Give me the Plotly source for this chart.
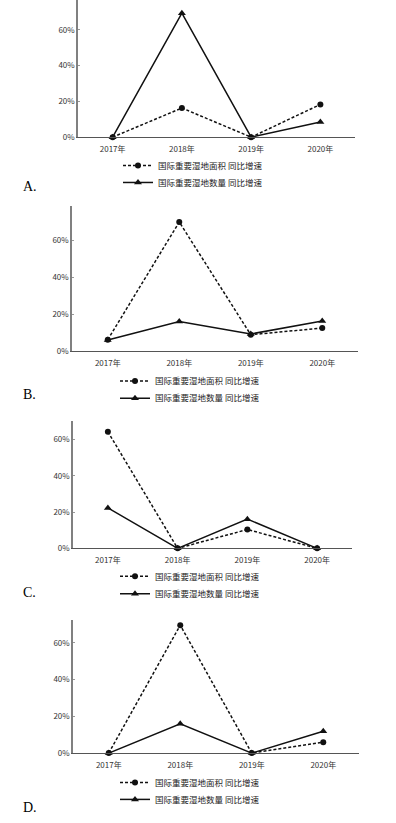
import plotly.graph_objects as go

years = ["2017年", "2018年", "2019年", "2020年"]
name_area = "国际重要湿地面积 同比增速"
name_count = "国际重要湿地数量 同比增速"

# values in %
A_area = [0, 16.3, 0, 18.3]
A_count = [0, 69.3, 0, 8.5]
B_area = [6.2, 69.9, 8.9, 12.5]
B_count = [6.0, 16.1, 9.3, 16.3]
C_area = [64.3, 0, 10.4, 0]
C_count = [22.3, 0, 16.1, 0]
D_area = [0, 69.6, 0, 5.9]
D_count = [0, 15.9, 0, 11.9]

panel_labels = ["A.", "B.", "C.", "D."]
ytick_vals = [0, 20, 40, 60]

W, H = 396, 823

# layout specs in pixels: (x0, x1, ytop, ybottom, ymax, legend_x, legend item centres, label_y)
specs = [
    (78, 355, 0, 138, 76.7, 118, (165, 182), 188),
    (72, 358, 207, 353.3, 78.7, 115, (381.7, 399), 397),
    (73, 352, 423.3, 551.7, 70.4, 115, (578.3, 595.7), 596),
    (73, 359, 624, 757.7, 72.3, 115, (785.7, 802.7), 812),
]
data = [(A_area, A_count), (B_area, B_count), (C_area, C_count), (D_area, D_count)]

fig = go.Figure()
font_cn = "Noto Sans CJK SC"
axis_col = "#808080"
LEG_OFF = 13

def leg_name(n):
    return "legend" if n == 0 else f"legend{n+1}"

for i, (spec, (area, count)) in enumerate(zip(specs, data)):
    x0, x1, yt, yb, ymax, lx, lcs, laby = spec
    sfx = "" if i == 0 else str(i + 1)
    la = leg_name(2 * i)
    lb = leg_name(2 * i + 1)
    fig.add_trace(go.Scatter(
        x=years, y=area, name=name_area, mode="lines+markers",
        line=dict(color="#111111", width=1.5, dash="3px,2px"),
        marker=dict(symbol="circle", size=6, color="#111111"),
        xaxis="x" + sfx, yaxis="y" + sfx, legend=la, cliponaxis=False))
    fig.add_trace(go.Scatter(
        x=years, y=count, name=name_count, mode="lines+markers",
        line=dict(color="#111111", width=1.5),
        marker=dict(symbol="triangle-up", size=7, color="#111111"),
        xaxis="x" + sfx, yaxis="y" + sfx, legend=lb, cliponaxis=False))
    xa = dict(domain=[x0 / W, x1 / W], anchor="y" + sfx, type="category",
              range=[-0.5, 3.5], showline=True, linecolor="#555555", linewidth=1,
              showgrid=False, zeroline=False, ticks="", ticklabelstandoff=4,
              tickfont=dict(family=font_cn, size=8, color="#333333"))
    ya = dict(domain=[1 - yb / H, 1 - yt / H], anchor="x" + sfx,
              range=[0, ymax], showline=True, linecolor=axis_col, linewidth=1.5,
              showgrid=False, zeroline=False, ticks="inside", ticklen=2,
              tickcolor="#999999", tickwidth=1,
              tickvals=ytick_vals, ticktext=[f"{v}%" for v in ytick_vals],
              tickfont=dict(family=font_cn, size=8, color="#333333"))
    fig.layout["xaxis" + sfx] = xa
    fig.layout["yaxis" + sfx] = ya
    for ln, c in zip((la, lb), lcs):
        fig.layout[ln] = dict(x=lx / W, y=1 - (c - LEG_OFF) / H, xanchor="left",
                              yanchor="top", xref="paper", yref="paper",
                              orientation="v", bgcolor="rgba(0,0,0,0)", itemwidth=30,
                              font=dict(family=font_cn, size=8.5, color="#222222"))
    fig.add_annotation(text=panel_labels[i], x=21 / W, y=1 - laby / H,
                       xref="paper", yref="paper", xanchor="left", yanchor="middle",
                       showarrow=False,
                       font=dict(family="Liberation Serif", size=14, color="#000000"))

fig.update_layout(width=W, height=H, margin=dict(l=0, r=0, t=0, b=0),
                  paper_bgcolor="white", plot_bgcolor="white", showlegend=True)
fig.write_html("out.html", config={"displayModeBar": False},
               post_script="document.body.style.margin='0';document.body.style.padding='0';document.documentElement.style.overflow='hidden';")
